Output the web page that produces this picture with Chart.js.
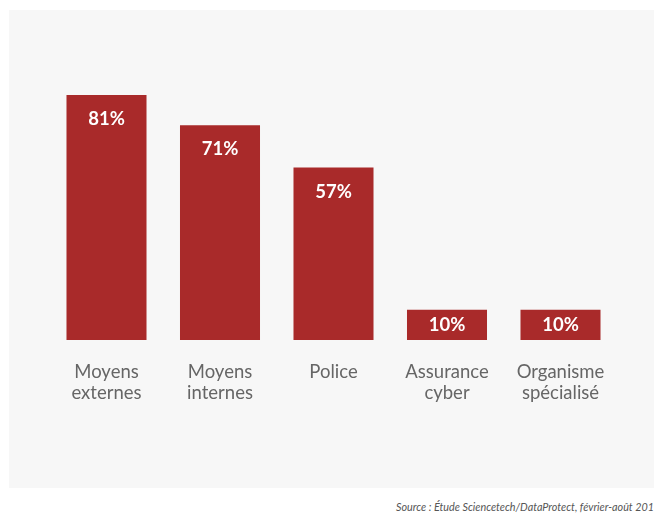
<!DOCTYPE html>
<html>
<head>
<meta charset="utf-8">
<script src="https://cdn.jsdelivr.net/npm/chart.js@4/dist/chart.umd.min.js"></script>
<style>
  body { margin: 0; background: #fff; width: 654px; height: 517px; position: relative; overflow: hidden; }
  #panel { position: absolute; left: 9px; top: 10px; width: 645px; height: 478px; background: #f7f7f7; }
  #source { position: absolute; right: 0px; top: 500px; font: italic 10.8px Lato, sans-serif; color: #555; white-space: nowrap; }
</style>
</head>
<body>
<div id="panel"><canvas id="chart" width="645" height="478"></canvas></div>
<div id="source">Source : Étude Sciencetech/DataProtect, février-août 201</div>
<script>
const categories = [
    ['Moyens', 'externes'],
    ['Moyens', 'internes'],
    ['Police'],
    ['Assurance', 'cyber'],
    ['Organisme', 'spécialisé']
];
const shares = [81, 71, 57, 10, 10];

// percent inside the bar, near the top (centered for short bars)
const valueLabels = {
    id: 'valueLabels',
    afterDatasetsDraw(chart) {
        const ctx = chart.ctx;
        const meta = chart.getDatasetMeta(0);
        ctx.save();
        ctx.fillStyle = '#fff';
        ctx.font = 'bold 18.5px Lato';
        ctx.textAlign = 'center';
        ctx.textBaseline = 'middle';
        meta.data.forEach((bar, i) => {
            const y = Math.min(bar.y + 24, (bar.y + bar.base) / 2);
            ctx.fillText(shares[i] + '%', bar.x, y);
        });
        ctx.restore();
    }
};

// category names under each bar
const categoryLabels = {
    id: 'categoryLabels',
    afterDraw(chart) {
        const ctx = chart.ctx;
        const x = chart.scales.x;
        ctx.save();
        ctx.fillStyle = '#666';
        ctx.font = '18.5px Lato';
        ctx.textAlign = 'center';
        ctx.textBaseline = 'middle';
        categories.forEach((lines, i) => {
            lines.forEach((line, j) => {
                ctx.fillText(line, x.getPixelForValue(i), chart.chartArea.bottom + 32 + j * 21);
            });
        });
        ctx.restore();
    }
};

new Chart(document.getElementById('chart'), {
    type: 'bar',
    data: {
        labels: categories.map(c => c.join(' ')),
        datasets: [{
            data: shares,
            backgroundColor: '#a92a2a',
            categoryPercentage: 1,
            barPercentage: 0.705
        }]
    },
    options: {
        responsive: false,
        animation: false,
        layout: { padding: { left: 40.75, right: 36.75, top: 27.5, bottom: 148 } },
        plugins: { legend: { display: false }, tooltip: { enabled: false } },
        scales: {
            x: { display: false },
            y: { display: false, min: 0, max: 100 }
        }
    },
    plugins: [valueLabels, categoryLabels]
});
</script>
</body>
</html>
